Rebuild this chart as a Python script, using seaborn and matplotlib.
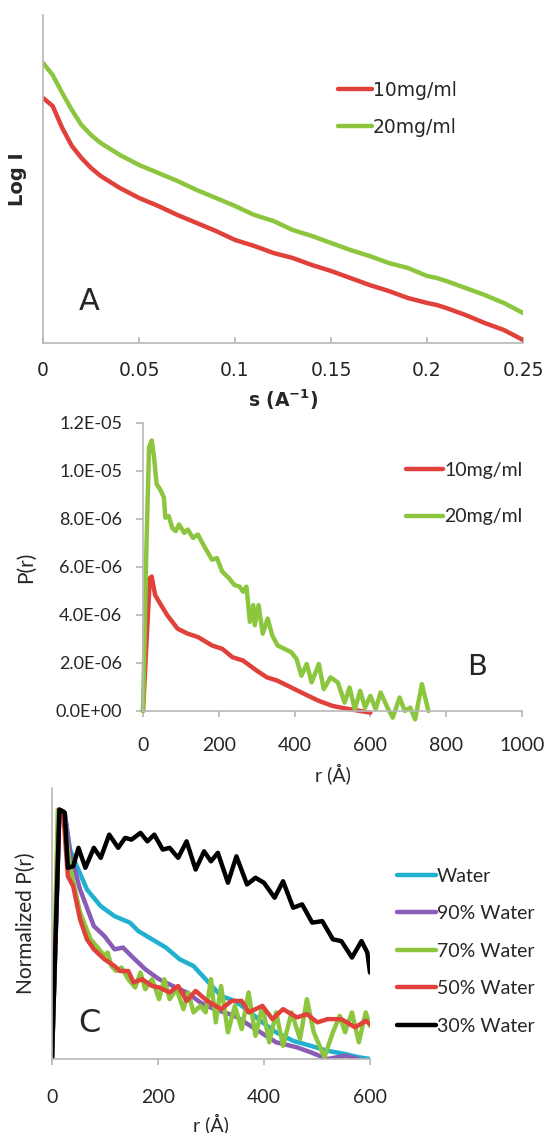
"""
SAXS panels: (A) log I vs s, (B) P(r) for two concentrations,
(C) normalized P(r) for different water fractions.
"""

import matplotlib
matplotlib.use("Agg")
import matplotlib.pyplot as plt
import seaborn as sns

# ----------------------------------------------------------
# Data
# ----------------------------------------------------------
# Panel A - scattering curves (arbitrary log scale)
s_vals = [0, 0.005, 0.01, 0.015, 0.02, 0.025, 0.03, 0.04, 0.05, 0.06, 0.07,
          0.08, 0.09, 0.10, 0.11, 0.12, 0.13, 0.14, 0.15, 0.16, 0.17, 0.18,
          0.19, 0.20, 0.205, 0.21, 0.22, 0.23, 0.24, 0.25]
logI_20 = [2.80, 2.68, 2.50, 2.33, 2.18, 2.08, 2.00, 1.88, 1.78, 1.70, 1.62,
           1.53, 1.45, 1.37, 1.28, 1.22, 1.13, 1.07, 1.00, 0.93, 0.87, 0.80,
           0.75, 0.67, 0.65, 0.62, 0.55, 0.48, 0.40, 0.30]
logI_10 = [2.45, 2.37, 2.15, 1.97, 1.85, 1.75, 1.67, 1.55, 1.45, 1.37, 1.28,
           1.20, 1.12, 1.03, 0.97, 0.90, 0.85, 0.78, 0.72, 0.65, 0.58, 0.52,
           0.45, 0.40, 0.38, 0.35, 0.28, 0.20, 0.13, 0.03]

# Panel B - P(r)
r_b10 = [0, 18, 23, 32, 45, 64, 91, 118, 145, 182, 209, 236, 264, 300, 327,
         355, 391, 427, 464, 500, 536, 573, 600]
p_b10 = [0, 5.53e-6, 5.6e-6, 4.83e-6, 4.48e-6, 3.99e-6, 3.43e-6, 3.22e-6,
         3.08e-6, 2.73e-6, 2.59e-6, 2.24e-6, 2.10e-6, 1.68e-6, 1.40e-6,
         1.26e-6, 0.98e-6, 0.70e-6, 0.42e-6, 0.21e-6, 0.10e-6, 0, -0.07e-6]
r_b20 = [0, 9, 16, 23, 29, 36, 45, 55, 59, 68, 77, 86, 95, 109, 118, 132, 145,
         159, 182, 195, 209, 227, 241, 255, 264, 273, 282, 291, 295, 305, 316,
         329, 341, 355, 373, 391, 405, 418, 432, 445, 464, 477, 495, 514, 532,
         545, 559, 573, 586, 600, 614, 627, 645, 659, 677, 691, 705, 718, 736,
         753]
p_b20 = [0, 6.8e-6, 1.10e-5, 1.127e-5, 1.06e-5, 9.45e-6, 9.24e-6, 8.9e-6,
         8.05e-6, 8.12e-6, 7.63e-6, 7.49e-6, 7.77e-6, 7.42e-6, 7.56e-6,
         7.21e-6, 7.35e-6, 6.93e-6, 6.30e-6, 6.37e-6, 5.81e-6, 5.53e-6,
         5.25e-6, 5.18e-6, 4.97e-6, 5.18e-6, 3.71e-6, 4.41e-6, 3.57e-6,
         4.41e-6, 3.22e-6, 3.85e-6, 3.15e-6, 2.73e-6, 2.59e-6, 2.45e-6,
         2.17e-6, 1.47e-6, 1.96e-6, 1.19e-6, 1.96e-6, 0.91e-6, 1.40e-6,
         1.19e-6, 0.35e-6, 0.98e-6, 0.07e-6, 0.84e-6, 0.14e-6, 0.63e-6,
         0.07e-6, 0.77e-6, 0.14e-6, -0.28e-6, 0.56e-6, 0, 0.14e-6, -0.35e-6,
         1.12e-6, 0]

# Panel C - normalized P(r)
r_water = [0, 14, 24, 34, 47, 66, 92, 118, 147, 163, 189, 215, 241, 267, 293,
           319, 345, 371, 397, 423, 455, 488, 520, 553, 579, 600]
p_water = [0, 1.0, 0.987, 0.84, 0.773, 0.68, 0.613, 0.573, 0.547, 0.513, 0.48,
           0.447, 0.40, 0.373, 0.313, 0.253, 0.233, 0.193, 0.147, 0.107,
           0.073, 0.053, 0.033, 0.02, 0.007, 0]
r_90 = [0, 14, 24, 34, 53, 79, 99, 118, 134, 150, 176, 202, 228, 254, 280,
        306, 345, 384, 423, 462, 488, 520, 553, 579]
p_90 = [0, 1.0, 0.987, 0.827, 0.68, 0.533, 0.493, 0.44, 0.447, 0.413, 0.36,
        0.32, 0.293, 0.267, 0.227, 0.20, 0.173, 0.12, 0.067, 0.047, 0.027, 0,
        0.013, 0]
r_70 = [0, 11, 21, 34, 53, 73, 89, 99, 105, 112, 121, 131, 144, 157, 167, 176,
        189, 202, 212, 222, 235, 248, 257, 267, 280, 290, 300, 309, 319, 332,
        345, 358, 371, 384, 397, 410, 423, 436, 452, 468, 481, 494, 514, 530,
        543, 553, 566, 579, 592, 600]
p_70 = [0, 1.0, 0.987, 0.773, 0.587, 0.48, 0.44, 0.413, 0.427, 0.373, 0.353,
        0.367, 0.32, 0.287, 0.347, 0.28, 0.32, 0.24, 0.32, 0.24, 0.28, 0.20,
        0.267, 0.187, 0.213, 0.187, 0.32, 0.147, 0.293, 0.107, 0.213, 0.12,
        0.267, 0.093, 0.213, 0.067, 0.187, 0.053, 0.187, 0.08, 0.24, 0.107,
        0.007, 0.107, 0.173, 0.107, 0.187, 0.067, 0.187, 0.133]
r_50 = [0, 14, 21, 30, 40, 53, 66, 79, 99, 118, 128, 144, 154, 170, 189, 202,
        222, 238, 254, 271, 293, 319, 339, 358, 371, 397, 416, 436, 462, 481,
        501, 520, 546, 572, 592, 600]
p_50 = [0, 1.0, 0.993, 0.733, 0.693, 0.56, 0.48, 0.44, 0.40, 0.373, 0.353,
        0.353, 0.307, 0.32, 0.293, 0.287, 0.267, 0.293, 0.233, 0.273, 0.233,
        0.20, 0.233, 0.233, 0.187, 0.213, 0.16, 0.20, 0.167, 0.18, 0.147,
        0.16, 0.16, 0.127, 0.153, 0.14]
r_30 = [0, 14, 21, 24, 30, 40, 50, 63, 79, 92, 108, 125, 138, 150, 167, 180,
        193, 209, 222, 238, 254, 271, 287, 300, 313, 332, 348, 368, 384, 400,
        420, 436, 455, 472, 491, 510, 530, 546, 566, 584, 595, 600]
p_30 = [0, 1.0, 0.993, 0.987, 0.767, 0.773, 0.847, 0.767, 0.847, 0.807, 0.90,
        0.847, 0.887, 0.88, 0.907, 0.873, 0.90, 0.84, 0.847, 0.807, 0.873,
        0.76, 0.833, 0.793, 0.827, 0.707, 0.813, 0.70, 0.727, 0.707, 0.647,
        0.713, 0.607, 0.62, 0.547, 0.553, 0.48, 0.473, 0.407, 0.473, 0.427,
        0.347]

RED = "#e0413b"
GREEN = "#8cc63f"
CYAN = "#1fb1cf"
PURPLE = "#8a5cb6"
BLACK = "#000000"
AXIS_GREY = "#b8b8b8"

sns.set_theme(style="white")
plt.rcParams["font.family"] = ["DejaVu Sans"]
plt.rcParams["mathtext.fontset"] = "custom"
plt.rcParams["mathtext.bf"] = "DejaVu Sans:bold"
plt.rcParams["mathtext.rm"] = "DejaVu Sans:bold"
plt.rcParams["lines.solid_joinstyle"] = "round"
plt.rcParams["lines.solid_capstyle"] = "round"

fig = plt.figure(figsize=(5.46, 11.33), dpi=100)
LW = 3.2
CAL = ["Lato", "DejaVu Sans"]


def style_axes(ax):
    for side in ["top", "right"]:
        ax.spines[side].set_visible(False)
    for side in ["left", "bottom"]:
        ax.spines[side].set_color(AXIS_GREY)
        ax.spines[side].set_linewidth(1.2)


# ----------------------------------------------------------
# Panel A
# ----------------------------------------------------------
axA = fig.add_axes([0.0788, 0.6973, 0.8791, 0.2895])
sns.lineplot(x=s_vals, y=logI_10, ax=axA, color=RED, lw=LW, label="10mg/ml")
sns.lineplot(x=s_vals, y=logI_20, ax=axA, color=GREEN, lw=LW, label="20mg/ml")
axA.set_xlim(0, 0.25)
axA.set_ylim(0, 3.28)
axA.set_xticks([0, 0.05, 0.1, 0.15, 0.2, 0.25])
axA.set_xticklabels(["0", "0.05", "0.1", "0.15", "0.2", "0.25"])
axA.set_yticks([])
style_axes(axA)
axA.tick_params(axis="x", direction="in", length=4.5, color=AXIS_GREY,
                labelsize=13.5, pad=13, bottom=True)
axA.set_xlabel(r"s (A$^{\mathbf{-1}}$)", fontsize=13.5, fontweight="bold")
axA.xaxis.set_label_coords(0.5, -0.137)
axA.set_ylabel("Log I", fontsize=14, fontweight="bold")
axA.yaxis.set_label_coords(-0.033, 0.5)
axA.legend(loc="upper left", bbox_to_anchor=(0.619, 0.9285),
           bbox_transform=fig.transFigure, frameon=False, fontsize=13.5,
           handlelength=1.8, handletextpad=0.05, labelspacing=0.95,
           borderpad=0, borderaxespad=0)
fig.text(89 / 546, 1 - 302 / 1133, "A", fontsize=22, ha="center", va="center")

# ----------------------------------------------------------
# Panel B
# ----------------------------------------------------------
axB = fig.add_axes([0.2619, 0.3725, 0.6941, 0.2542])
sns.lineplot(x=r_b10, y=p_b10, ax=axB, color=RED, lw=LW, label="10mg/ml",
             clip_on=False)
sns.lineplot(x=r_b20, y=p_b20, ax=axB, color=GREEN, lw=LW, label="20mg/ml",
             clip_on=False)
axB.set_xlim(0, 1000)
axB.set_ylim(0, 1.2e-5)
axB.set_xticks([0, 200, 400, 600, 800, 1000])
yt = [0, 2e-6, 4e-6, 6e-6, 8e-6, 1e-5, 1.2e-5]
axB.set_yticks(yt)
axB.set_yticklabels(["0.0E+00", "2.0E-06", "4.0E-06", "6.0E-06", "8.0E-06",
                     "1.0E-05", "1.2E-05"])
style_axes(axB)
axB.tick_params(axis="x", direction="out", length=4, color=AXIS_GREY,
                labelsize=14, pad=15, bottom=True)
axB.tick_params(axis="y", direction="out", length=5, color=AXIS_GREY,
                labelsize=13, pad=10, left=True)
for lab in axB.get_xticklabels() + axB.get_yticklabels():
    lab.set_family(CAL)
axB.set_xlabel("r (Å)", fontsize=14, family=CAL)
axB.xaxis.set_label_coords(0.5, -0.181)
axB.set_ylabel("P(r)", fontsize=15, family=CAL)
axB.yaxis.set_label_coords(-0.282, 0.5)
axB.legend(loc="upper left", bbox_to_anchor=(0.744, 0.592),
           bbox_transform=fig.transFigure, frameon=False,
           prop={"family": CAL, "size": 14},
           handlelength=1.9, handletextpad=0.05, labelspacing=1.5,
           borderpad=0, borderaxespad=0)
fig.text(477 / 546, 1 - 667 / 1133, "B", fontsize=21, ha="center", va="center")

# ----------------------------------------------------------
# Panel C
# ----------------------------------------------------------
axC = fig.add_axes([0.0952, 0.0653, 0.5824, 0.2392])
series_c = [
    (r_water, p_water, CYAN, "Water"),
    (r_90, p_90, PURPLE, "90% Water"),
    (r_70, p_70, GREEN, "70% Water"),
    (r_50, p_50, RED, "50% Water"),
    (r_30, p_30, BLACK, "30% Water"),
]
for xs, ys, col, lab in series_c:
    sns.lineplot(x=xs, y=ys, ax=axC, color=col, lw=LW, label=lab)
axC.set_xlim(0, 600)
axC.set_ylim(0, 1.087)
axC.set_xticks([0, 200, 400, 600])
axC.set_yticks([])
style_axes(axC)
axC.tick_params(axis="x", direction="out", length=4.5, color=AXIS_GREY,
                labelsize=14, pad=17, bottom=True)
for lab in axC.get_xticklabels():
    lab.set_family(CAL)
axC.set_xlabel("r (Å)", fontsize=14, family=CAL)
axC.xaxis.set_label_coords(0.5, -0.199)
axC.set_ylabel("Normalized P(r)", fontsize=15, family=CAL)
axC.yaxis.set_label_coords(-0.05, 0.5)
axC.legend(loc="upper left", bbox_to_anchor=(0.727, 0.234),
           bbox_transform=fig.transFigure, frameon=False,
           prop={"family": CAL, "size": 14},
           handlelength=2.0, handletextpad=0.05, labelspacing=1.05,
           borderpad=0, borderaxespad=0)
fig.text(89 / 546, 1 - 1023 / 1133, "C", fontsize=23, ha="center", va="center")

fig.savefig("out.png", dpi=100)
